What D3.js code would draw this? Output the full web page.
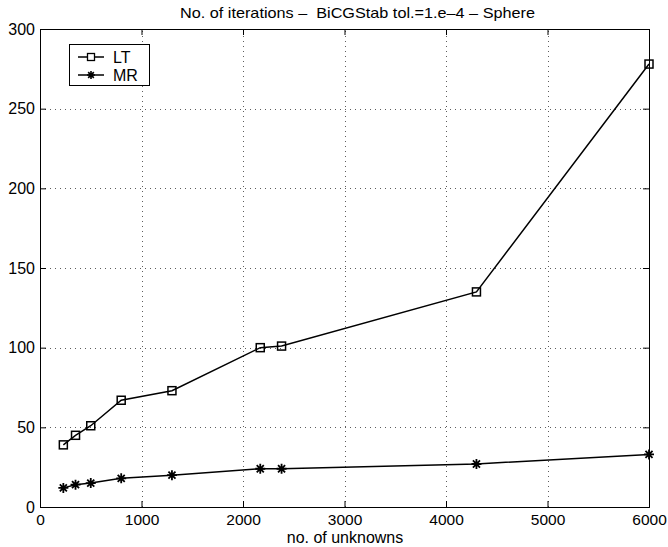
<!DOCTYPE html>
<html><head><meta charset="utf-8">
<script src="https://cdn.jsdelivr.net/npm/d3@7"></script>
<style>body{margin:0;background:#fff}svg{display:block}text{font-family:"Liberation Sans",Arial,Helvetica,sans-serif;fill:#000}</style>
</head><body><div id="chart"></div>
<script>
const unknowns = [230, 350, 500, 800, 1300, 2170, 2380, 4300, 6000];
const ltIters = [39, 45, 51, 67, 73, 100, 101, 135, 278];
const mrIters = [12, 14, 15, 18, 20, 24, 24, 27, 33];
const xTicks = [0, 1000, 2000, 3000, 4000, 5000, 6000];
const yTicks = [0, 50, 100, 150, 200, 250, 300];
const seriesNames = ["LT", "MR"];

const W = 668, H = 547;
const m = {left: 40, right: 19, top: 29, bottom: 40};
const svg = d3.select("#chart").append("svg").attr("width", W).attr("height", H);
const x = d3.scaleLinear().domain([0, 6000]).range([m.left, W - m.right]);
const y = d3.scaleLinear().domain([0, 300]).range([H - m.bottom, m.top]);
const x0 = x(0), x1 = x(6000), y0 = y(0), y1 = y(300);

// grid
const g = svg.append("g");
g.selectAll(".gx").data(xTicks.slice(1, -1)).join("line")
  .attr("x1", d => Math.round(x(d)) + 0.5).attr("x2", d => Math.round(x(d)) + 0.5)
  .attr("y1", y0).attr("y2", y1)
  .attr("stroke", "#333").attr("stroke-width", 0.8).attr("stroke-dasharray", "1,4");
g.selectAll(".gy").data(yTicks.slice(1, -1)).join("line")
  .attr("y1", d => Math.round(y(d)) + 0.5).attr("y2", d => Math.round(y(d)) + 0.5)
  .attr("x1", x0).attr("x2", x1)
  .attr("stroke", "#333").attr("stroke-width", 0.8).attr("stroke-dasharray", "1,4");

// axes with inward ticks
const tl = 6;
const ax = svg.append("g").attr("transform", `translate(0,${y0})`)
  .call(d3.axisBottom(x).tickValues(xTicks).tickSize(-tl).tickPadding(7).tickFormat(d3.format("d")));
const axT = svg.append("g").attr("transform", `translate(0,${y1})`)
  .call(d3.axisTop(x).tickValues(xTicks).tickSize(-tl).tickFormat(""));
const ay = svg.append("g").attr("transform", `translate(${x0},0)`)
  .call(d3.axisLeft(y).tickValues(yTicks).tickSize(-tl).tickPadding(5).tickFormat(d3.format("d")));
const ayR = svg.append("g").attr("transform", `translate(${x1},0)`)
  .call(d3.axisRight(y).tickValues(yTicks).tickSize(-tl).tickFormat(""));
[ax, axT, ay, ayR].forEach(a => {
  a.select(".domain").attr("stroke", "#000");
  a.selectAll("line").attr("stroke", "#000");
  a.selectAll("text").attr("font-size", 16).attr("font-family", "Liberation Sans, Arial, sans-serif").attr("fill", "#000");
});
ax.selectAll("text").attr("font-size", 15.5);

// lines
const line = d3.line().x((d, i) => x(unknowns[i])).y(d => y(d));
svg.append("path").attr("d", line(ltIters)).attr("fill", "none").attr("stroke", "#000").attr("stroke-width", 1.5);
svg.append("path").attr("d", line(mrIters)).attr("fill", "none").attr("stroke", "#000").attr("stroke-width", 1.5);

// markers
const sq = 8;
svg.selectAll(".sq").data(ltIters).join("rect")
  .attr("x", (d, i) => x(unknowns[i]) - sq / 2).attr("y", d => y(d) - sq / 2)
  .attr("width", sq).attr("height", sq).attr("fill", "none").attr("stroke", "#000").attr("stroke-width", 1.5);
function asterisk(cx, cy, r) {
  let p = "";
  for (let k = 0; k < 4; k++) {
    const a = k * Math.PI / 4;
    p += `M${cx - r * Math.cos(a)},${cy - r * Math.sin(a)}L${cx + r * Math.cos(a)},${cy + r * Math.sin(a)}`;
  }
  return p;
}
svg.selectAll(".st").data(mrIters).join("path")
  .attr("d", (d, i) => asterisk(x(unknowns[i]), y(d), 5))
  .attr("stroke", "#000").attr("stroke-width", 1.8).attr("fill", "none");

// title and labels
svg.append("text").attr("x", 180).attr("y", 18).attr("font-size", 15)
  .attr("textLength", 355).attr("lengthAdjust", "spacingAndGlyphs")
  .attr("xml:space", "preserve").style("white-space", "pre")
  .text("No. of iterations –  BiCGStab tol.=1.e–4 – Sphere");
svg.append("text").attr("x", 345).attr("y", 543).attr("text-anchor", "middle")
  .attr("font-size", 16).text("no. of unknowns");

// legend
const lg = svg.append("g");
lg.append("rect").attr("x", 69.5).attr("y", 44.5).attr("width", 80).attr("height", 41)
  .attr("fill", "#fff").attr("stroke", "#000").attr("stroke-width", 1);
const lgY = [57, 75];
lg.selectAll(".ll").data(seriesNames).join("line")
  .attr("x1", 78).attr("x2", 104).attr("y1", (d, i) => lgY[i]).attr("y2", (d, i) => lgY[i])
  .attr("stroke", "#000").attr("stroke-width", 1.5);
lg.append("rect").attr("x", 87.5).attr("y", lgY[0] - 3.5).attr("width", 7).attr("height", 7)
  .attr("fill", "#fff").attr("stroke", "#000").attr("stroke-width", 1.3);
lg.append("path").attr("d", asterisk(91, lgY[1], 4)).attr("stroke", "#000").attr("stroke-width", 1.6);
lg.selectAll(".lt").data(seriesNames).join("text")
  .attr("x", 113).attr("y", (d, i) => lgY[i] + 5.5).attr("font-size", 16).text(d => d);
</script></body></html>
